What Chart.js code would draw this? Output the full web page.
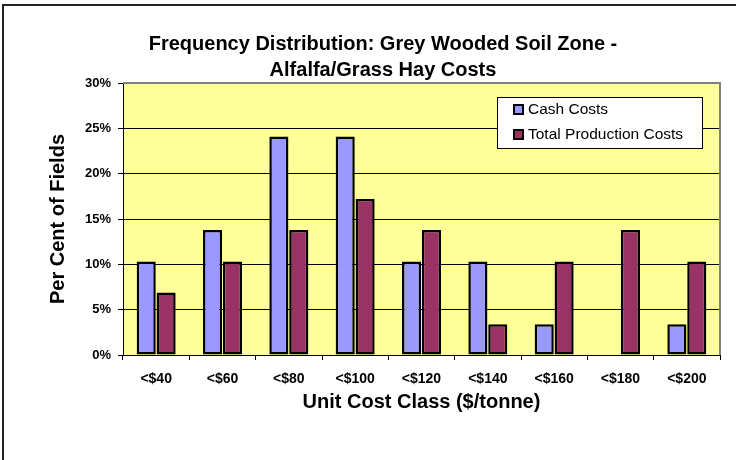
<!DOCTYPE html>
<html>
<head>
<meta charset="utf-8">
<title>Frequency Distribution: Grey Wooded Soil Zone</title>
<script src="https://cdn.jsdelivr.net/npm/chart.js@4/dist/chart.umd.min.js"></script>
<style>
  html, body { margin: 0; padding: 0; background: #fff; }
  #wrap { width: 736px; height: 460px; }
</style>
</head>
<body>
<div id="wrap"><canvas id="myChart" width="736" height="460"></canvas></div>
<script>
const categories = ['<$40', '<$60', '<$80', '<$100', '<$120', '<$140', '<$160', '<$180', '<$200'];
const cashCosts = [10.3, 13.8, 24.1, 24.1, 10.3, 10.3, 3.4, 0, 3.4];
const totalCosts = [6.9, 10.3, 13.8, 17.2, 13.8, 3.4, 10.3, 13.8, 10.3];
const seriesNames = ['Cash Costs', 'Total Production Costs'];
const seriesColors = ['#9999FF', '#993366'];
const titleLines = ['Frequency Distribution: Grey Wooded Soil Zone -', 'Alfalfa/Grass Hay Costs'];

const FONT = '"Liberation Sans", Arial, sans-serif';
Chart.defaults.font.family = FONT;
Chart.defaults.color = '#000';

// yellow plot area, grey frame, outer border and the boxed legend
const frame = {
    id: 'frame',
    beforeDraw(chart) {
        const { ctx, chartArea: a } = chart;
        ctx.save();
        ctx.fillStyle = '#FFFF99';
        ctx.fillRect(a.left, a.top, a.right - a.left, a.bottom - a.top);
        ctx.restore();
    },
    afterDraw(chart) {
        const { ctx, chartArea: a } = chart;
        ctx.save();
        ctx.fillStyle = '#808080';
        ctx.fillRect(a.left, a.top - 1, a.right - a.left + 1, 2);
        ctx.fillRect(a.right - 1, a.top - 1, 2, a.bottom - a.top + 1);
        // outer chart border
        ctx.fillStyle = '#222';
        ctx.fillRect(2, 4, 2, 456);
        ctx.fillRect(2, 4, 734, 2);
        // legend
        const lx = 497, ly = 97, lw = 205, lh = 51;
        ctx.fillStyle = '#fff';
        ctx.fillRect(lx, ly, lw, lh);
        ctx.strokeStyle = '#000';
        ctx.lineWidth = 1;
        ctx.strokeRect(lx + 0.5, ly + 0.5, lw, lh);
        ctx.font = '15.5px ' + FONT;
        ctx.textBaseline = 'middle';
        chart.data.datasets.forEach((ds, i) => {
            const y = ly + 13 + i * 25;
            ctx.fillStyle = '#000';
            ctx.fillRect(lx + 16, y - 6, 11, 11);
            ctx.fillStyle = ds.backgroundColor;
            ctx.fillRect(lx + 18, y - 4, 7, 7);
            ctx.fillStyle = '#000';
            ctx.fillText(ds.label, lx + 31, y);
        });
        ctx.restore();
    }
};

const ctx = document.getElementById('myChart').getContext('2d');
const myChart = new Chart(ctx, {
    type: 'bar',
    data: {
        labels: categories,
        datasets: [{
            label: seriesNames[0],
            data: cashCosts,
            backgroundColor: seriesColors[0],
            borderColor: '#000',
            borderWidth: (c) => (c.raw === 0 ? 0 : 2.5),
            borderSkipped: false,
            categoryPercentage: 0.6,
            barPercentage: 0.96
        }, {
            label: seriesNames[1],
            data: totalCosts,
            backgroundColor: seriesColors[1],
            borderColor: '#000',
            borderWidth: (c) => (c.raw === 0 ? 0 : 2.5),
            borderSkipped: false,
            categoryPercentage: 0.6,
            barPercentage: 0.96
        }]
    },
    options: {
        responsive: false,
        animation: false,
        layout: { padding: { left: 46, right: 16, top: 5, bottom: 40 } },
        plugins: {
            legend: { display: false },
            tooltip: { enabled: false },
            title: {
                display: true,
                text: titleLines,
                font: { size: 20, weight: 'bold', lineHeight: 1.3 },
                padding: { top: 26, bottom: 0 }
            }
        },
        scales: {
            x: {
                grid: {
                    offset: true,
                    drawOnChartArea: false,
                    color: '#000',
                    tickLength: 5
                },
                border: { color: '#000', width: 1 },
                ticks: { font: { size: 14, weight: 'bold' }, padding: 11, maxRotation: 0 },
                title: {
                    display: true,
                    text: 'Unit Cost Class ($/tonne)',
                    font: { size: 20, weight: 'bold' },
                    padding: { top: 0, bottom: 6 }
                },
                afterFit(scale) { scale.height = 65; }
            },
            y: {
                min: 0,
                max: 30,
                grid: { color: '#000', tickLength: 5 },
                border: { color: '#000', width: 1 },
                ticks: {
                    stepSize: 5,
                    padding: 7,
                    font: { size: 13, weight: 'bold' },
                    callback: (v) => v + '%'
                },
                title: {
                    display: true,
                    text: 'Per Cent of Fields',
                    font: { size: 20, weight: 'bold' },
                    padding: { top: 0, bottom: 0 }
                },
                afterFit(scale) { scale.width = 77; }
            }
        }
    },
    plugins: [frame]
});
</script>
</body>
</html>
